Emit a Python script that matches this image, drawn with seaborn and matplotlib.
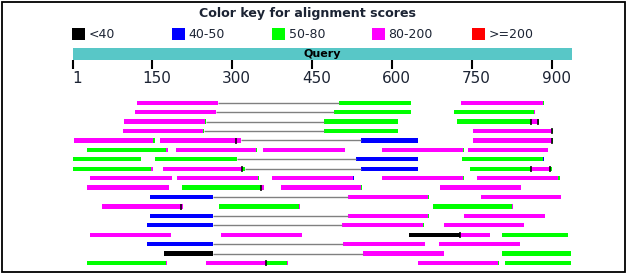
import matplotlib
matplotlib.use("Agg")
import matplotlib.pyplot as plt
import matplotlib.transforms as mtransforms
from matplotlib.patches import Rectangle
import seaborn as sns
import pandas as pd

sns.set_style("white")
plt.rcParams['font.family'] = ['DejaVu Sans']

# ---------------- data ----------------
title = "Color key for alignment scores"
key_labels = ["<40", "40-50", "50-80", "80-200", ">=200"]
key_codes = ["K", "B", "G", "M", "R"]
query_label = "Query"
query_length = 937
query_ticks = [1, 150, 300, 450, 600, 750, 900]

# HSP segments per hit row: (query start, query end, score class)
hsp01 = [(122, 273, "M"), (501, 636, "G"), (730, 883, "M"), (883, 885, "G")]
hsp02 = [(118, 270, "M"), (491, 636, "G"), (716, 866, "G"), (866, 868, "M")]
hsp03 = [(98, 250, "M"), (250, 252, "G"), (473, 612, "G"), (722, 860, "G"), (860, 873, "M"), (873, 876, "G")]
hsp04 = [(96, 246, "M"), (246, 248, "G"), (473, 612, "G"), (752, 900, "M"), (900, 902, "G")]
hsp05 = [(4, 152, "M"), (152, 156, "G"), (165, 317, "M"), (542, 649, "B"), (752, 900, "M"), (900, 902, "G")]
hsp06 = [(28, 176, "G"), (176, 180, "M"), (195, 345, "M"), (345, 347, "G"), (358, 512, "M"),
         (582, 733, "M"), (733, 735, "G"), (743, 893, "M")]
hsp07 = [(1, 130, "G"), (156, 310, "G"), (533, 649, "B"), (731, 883, "G"), (883, 885, "B")]
hsp08 = [(1, 148, "G"), (148, 152, "M"), (171, 319, "M"), (319, 325, "G"), (542, 649, "B"),
         (746, 860, "G"), (860, 897, "M"), (897, 900, "G")]
hsp09 = [(34, 188, "M"), (197, 349, "M"), (349, 351, "G"), (375, 527, "M"), (527, 529, "B"),
         (582, 733, "M"), (733, 735, "G"), (760, 912, "M"), (912, 914, "G")]
hsp10 = [(28, 182, "M"), (207, 355, "G"), (355, 360, "M"), (392, 542, "M"), (542, 544, "G"), (690, 842, "M")]
hsp11 = [(146, 265, "B"), (518, 668, "M"), (668, 670, "G"), (767, 917, "M")]
hsp12 = [(56, 205, "M"), (205, 208, "M"), (276, 426, "G"), (426, 428, "M"), (677, 825, "G"), (825, 827, "M")]
hsp13 = [(146, 265, "B"), (518, 668, "M"), (668, 670, "G"), (735, 886, "M")]
hsp14 = [(141, 265, "B"), (506, 658, "M"), (658, 660, "G"), (698, 848, "M")]
hsp15 = [(34, 186, "M"), (280, 431, "M"), (632, 728, "K"), (728, 784, "M"), (807, 930, "G")]
hsp16 = [(141, 265, "B"), (508, 662, "M"), (688, 839, "M")]
hsp17 = [(173, 265, "K"), (546, 698, "M"), (807, 936, "G")]
hsp18 = [(28, 176, "G"), (176, 178, "M"), (251, 364, "M"), (364, 403, "G"), (403, 405, "M"),
         (649, 799, "M"), (799, 801, "G"), (812, 936, "G")]

# connector lines between HSPs of one hit: (row, start, end)
links = [(1, 273, 501), (2, 270, 491), (3, 252, 473), (4, 248, 473), (5, 317, 542),
         (7, 310, 533), (8, 325, 542), (11, 265, 518), (13, 265, 518), (14, 265, 506),
         (16, 265, 508), (17, 265, 546)]

# HSP boundary marks: (row, position)
marks = [(3, 860), (3, 873), (4, 900), (5, 308), (5, 900), (8, 319), (8, 860), (8, 897),
         (10, 355), (12, 205), (15, 728), (18, 364)]

# ---------------- styling ----------------
palette = {"K": "#000000", "B": "#0000FF", "G": "#00FF00", "M": "#FF00FF", "R": "#FF0000"}
text_color = "#1c2434"
W, H = 627, 276

rows = [hsp01, hsp02, hsp03, hsp04, hsp05, hsp06, hsp07, hsp08, hsp09,
        hsp10, hsp11, hsp12, hsp13, hsp14, hsp15, hsp16, hsp17, hsp18]
records = []
for i, segs in enumerate(rows, start=1):
    for s, e, c in segs:
        records.append({"row": i, "start": s, "end": e, "cls": c})
df = pd.DataFrame(records)

# pixel layout helpers
px0 = 72.6              # x pixel of query position 1
ppu = 80.0 / 150.0      # pixels per query unit
row_y0, row_dy = 102.7, 9.43


def row_y(r):
    return row_y0 + (r - 1) * row_dy


fig = plt.figure(figsize=(W / 100, H / 100), dpi=100)
ax = fig.add_axes([0, 0, 1, 1])
ax.set_xlim(1 - px0 / ppu, 1 + (W - px0) / ppu)
ax.set_ylim(H, 0)
ax.axis("off")

# hits
df["y"] = df["row"].map(row_y)
ax.barh(df["y"], df["end"] - df["start"], left=df["start"], height=4.3,
        color=df["cls"].map(palette), linewidth=0)
for r, s, e in links:
    ax.plot([s, e], [row_y(r), row_y(r)], color="#808080", lw=1.0, zorder=1,
            solid_capstyle="butt")
for r, p in marks:
    ax.plot([p, p], [row_y(r) - 2.6, row_y(r) + 3.2], color="black", lw=1.1, zorder=3,
            solid_capstyle="butt")

# query bar + ruler
ax.add_patch(Rectangle((1, 48.3), query_length - 1, 11.4, color="#58c7c7", lw=0))
ax.text((1 + query_length) / 2, 54.2, query_label, ha="center", va="center",
        fontsize=8, fontweight="bold", color="black")
ax.vlines(query_ticks, 59.7, 69.3, color="black", lw=1.5)
off = mtransforms.ScaledTranslation(4.3 / 100, 0, fig.dpi_scale_trans)
for t in query_ticks:
    ax.text(t, 83, str(t), ha="center", va="baseline", fontsize=11,
            color=text_color, transform=ax.transData + off)

# color key
fig.text(307.5 / W, 1 - 17 / H, title, ha="center", va="baseline",
         fontsize=9.1, fontweight="bold", color=text_color)
for k, (lab, code) in enumerate(zip(key_labels, key_codes)):
    x = 72 + 100 * k
    fig.patches.append(Rectangle((x / W, 1 - 40 / H), 13 / W, 12.3 / H,
                                 transform=fig.transFigure, color=palette[code], lw=0))
    fig.text((x + 16.5) / W, 1 - 38.3 / H, lab, ha="left", va="baseline",
             fontsize=9, color=text_color)

# frame
fig.patches.append(Rectangle((1.5 / W, 1 - 272 / H), 623.5 / W, 270.5 / H,
                             transform=fig.transFigure, fill=False,
                             edgecolor="black", lw=1.3))

fig.savefig("out.png", dpi=100)
